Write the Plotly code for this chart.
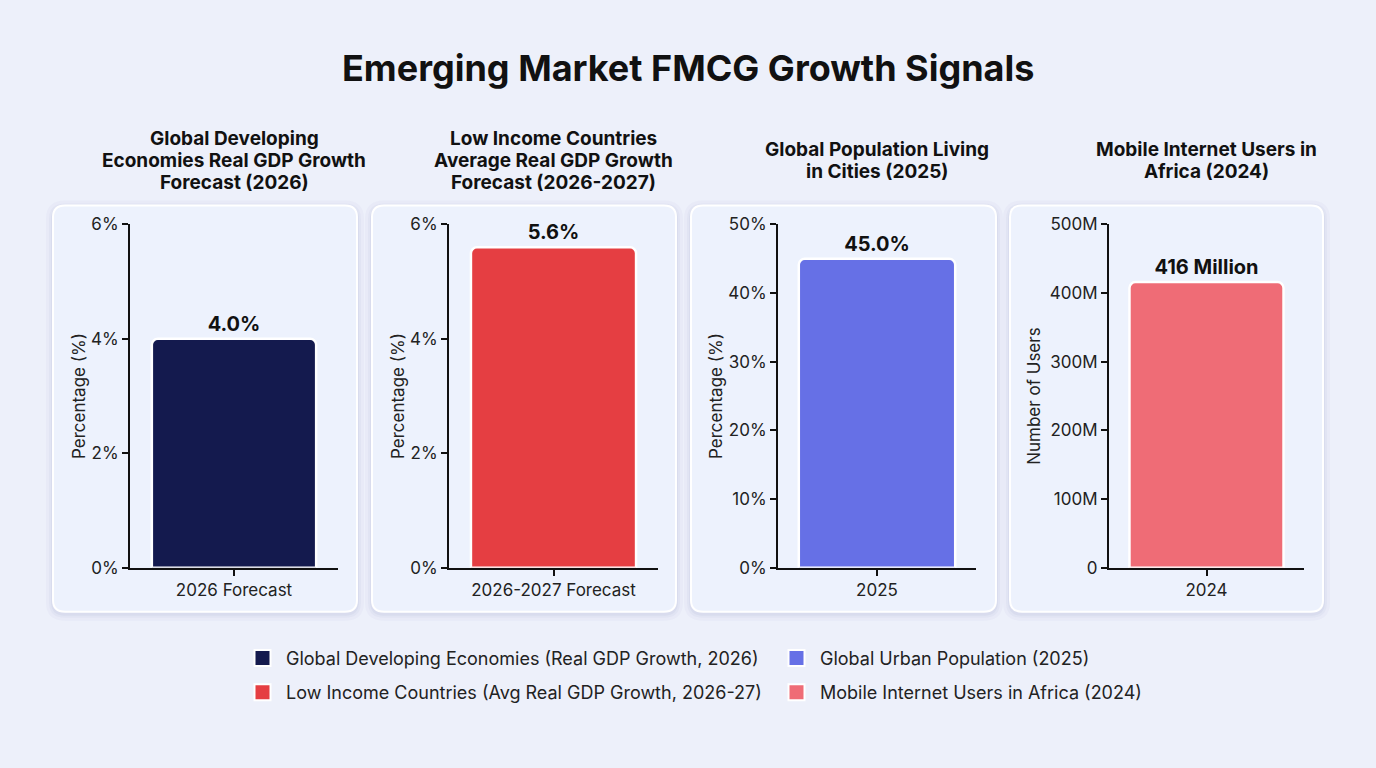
import plotly.graph_objects as go

W, H = 1376, 768

# ---- data ----
panel_title_lines = [
    ["Global Developing", "Economies Real GDP Growth", "Forecast (2026)"],
    ["Low Income Countries", "Average Real GDP Growth", "Forecast (2026-2027)"],
    ["Global Population Living", "in Cities (2025)"],
    ["Mobile Internet Users in", "Africa (2024)"],
]
categories = ["2026 Forecast", "2026-2027 Forecast", "2025", "2024"]
values = [4.0, 5.6, 45.0, 416e6]
value_labels = ["4.0%", "5.6%", "45.0%", "416 Million"]
legend_names = [
    "Global Developing Economies (Real GDP Growth, 2026)",
    "Low Income Countries (Avg Real GDP Growth, 2026-27)",
    "Global Urban Population (2025)",
    "Mobile Internet Users in Africa (2024)",
]
y_titles = ["Percentage (%)", "Percentage (%)", "Percentage (%)", "Number of Users"]
y_ranges = [[0, 6], [0, 6], [0, 50], [0, 500e6]]
y_tickvals = [[0, 2, 4, 6], [0, 2, 4, 6], [0, 10, 20, 30, 40, 50],
              [0, 100e6, 200e6, 300e6, 400e6, 500e6]]
y_ticktext = [["0%", "2%", "4%", "6%"], ["0%", "2%", "4%", "6%"],
              ["0%", "10%", "20%", "30%", "40%", "50%"],
              ["0", "100M", "200M", "300M", "400M", "500M"]]
colors = ["#141a4e", "#e53e42", "#6670e6", "#ef6c76"]

# ---- layout geometry (screen pixels) ----
plot_x = [(130, 338), (449, 658), (778, 976), (1109, 1304)]
plot_y = (224, 567)
cards = [(53, 357), (372, 676), (691, 996), (1010, 1323)]
card_y = (205, 611)
title_standoff = [1, 1, 1, 5]

FONT = "Inter, Roboto, sans-serif"
# the captured page maps figure y to screen y as: screen = 9.7 + 0.9733 * fig
SY, OY = 0.9733, 9.7
def fx(p): return p / W
def fy(p): return 1 - ((p - OY) / SY) / H

fig = go.Figure()
layout_axes = {}
for i in range(4):
    xa = "x" if i == 0 else f"x{i+1}"
    ya = "y" if i == 0 else f"y{i+1}"
    fig.add_trace(go.Bar(
        x=[categories[i]], y=[values[i]], xaxis=xa, yaxis=ya,
        marker=dict(color=colors[i], line=dict(color="white", width=2.5), cornerradius=6),
        width=0.79,
        text=[value_labels[i]], textposition="outside", cliponaxis=False,
        textfont=dict(family=FONT, size=20, color="#111111", weight="bold"),
        showlegend=False, hoverinfo="skip",
    ))
    key = "" if i == 0 else str(i + 1)
    layout_axes[f"xaxis{key}"] = dict(
        domain=[fx(plot_x[i][0]), fx(plot_x[i][1])], anchor=ya,
        showline=True, linecolor="#111111", linewidth=2,
        ticks="outside", ticklen=6, tickwidth=1.5, tickcolor="#111111",
        tickfont=dict(family=FONT, size=17, color="#222222"),
        showgrid=False, zeroline=False, fixedrange=True,
    )
    layout_axes[f"yaxis{key}"] = dict(
        domain=[fy(plot_y[1]), fy(plot_y[0])], anchor=xa,
        range=y_ranges[i], tickvals=y_tickvals[i], ticktext=y_ticktext[i],
        showline=True, linecolor="#111111", linewidth=2,
        ticks="outside", ticklen=6, tickwidth=1.5, tickcolor="#111111",
        tickfont=dict(family=FONT, size=17, color="#222222"),
        title=dict(text=y_titles[i], font=dict(family=FONT, size=17, color="#222222"),
                   standoff=title_standoff[i]),
        showgrid=False, zeroline=False, fixedrange=True,
    )

# legend entries (dummy traces carrying colors)
legend_ids = ["legend", "legend", "legend2", "legend2"]
for k in range(4):
    fig.add_trace(go.Scatter(
        x=[None], y=[None], mode="markers", name=legend_names[k],
        marker=dict(symbol="square", size=16, color=colors[k], line=dict(color="white", width=2)),
        legend=legend_ids[k], legendgroup=f"g{k}", showlegend=True, hoverinfo="skip",
    ))

def rrect(x0, y0, x1, y1, r):
    X0, X1 = fx(x0), fx(x1)
    Y0, Y1 = fy(y0), fy(y1)
    rx, ry = r / W, r / H
    return (f"M{X0+rx},{Y0} L{X1-rx},{Y0} Q{X1},{Y0} {X1},{Y0-ry} "
            f"L{X1},{Y1+ry} Q{X1},{Y1} {X1-rx},{Y1} L{X0+rx},{Y1} "
            f"Q{X0},{Y1} {X0},{Y1+ry} L{X0},{Y0-ry} Q{X0},{Y0} {X0+rx},{Y0} Z")

shapes = []
for (cx0, cx1) in cards:
    for s, a in [(7, 0.06), (4, 0.08), (2, 0.10)]:
        shapes.append(dict(type="path", xref="paper", yref="paper", layer="below",
                           path=rrect(cx0 - s, card_y[0] - s + 2, cx1 + s, card_y[1] + s + 2, 12 + s),
                           fillcolor=f"rgba(150,160,200,{a})", line=dict(width=0)))
    shapes.append(dict(type="path", xref="paper", yref="paper", layer="below",
                       path=rrect(cx0, card_y[0], cx1, card_y[1], 12),
                       fillcolor="#edf2fd", line=dict(color="#ffffff", width=2)))

annotations = [dict(text="<b>Emerging Market FMCG Growth Signals</b>", x=0.5, y=fy(68),
                    xref="paper", yref="paper", showarrow=False, xanchor="center", yanchor="middle",
                    font=dict(family=FONT, size=36, color="#111111"))]
for i in range(4):
    cx = (plot_x[i][0] + plot_x[i][1]) / 2
    lines = panel_title_lines[i]
    n = len(lines)
    for j, line in enumerate(lines):
        ly = 160 + (j - (n - 1) / 2) * 22
        annotations.append(dict(text=f"<b>{line}</b>", x=fx(cx), y=fy(ly),
                                xref="paper", yref="paper", showarrow=False,
                                xanchor="center", yanchor="middle",
                                font=dict(family=FONT, size=19, color="#111111")))

leg_common = dict(orientation="v", xanchor="left", yanchor="top", bgcolor="rgba(0,0,0,0)",
                  font=dict(family=FONT, size=18, color="#222222"), tracegroupgap=8,
                  itemsizing="trace", itemwidth=37)
fig.update_layout(
    width=W, height=H, margin=dict(l=0, r=0, t=0, b=0),
    paper_bgcolor="#edf0fa", plot_bgcolor="rgba(0,0,0,0)",
    font=dict(family=FONT, color="#222222"),
    shapes=shapes, annotations=annotations,
    legend=dict(x=fx(239), y=fy(639), **leg_common),
    legend2=dict(x=fx(773), y=fy(639), **leg_common),
    **layout_axes,
)

fig.write_html("out.html", config={"displayModeBar": False})
